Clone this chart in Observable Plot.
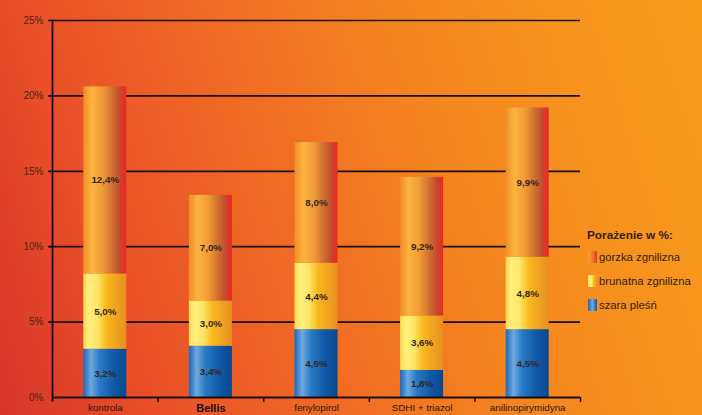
<!DOCTYPE html>
<html><head><meta charset="utf-8">
<script src="https://cdn.jsdelivr.net/npm/d3@7"></script>
<script src="https://cdn.jsdelivr.net/npm/@observablehq/plot@0.6"></script>
<style>
html,body{margin:0;padding:0;}
body{width:702px;height:415px;overflow:hidden;position:relative;
background:linear-gradient(72deg,#d6352a 0%,#e94f28 18%,#f06a24 40%,#f4841f 62%,#f7931d 82%,#f89a1c 100%);
font-family:"Liberation Sans",Arial,sans-serif;}
#chart{position:absolute;left:0;top:0;}
#legend{position:absolute;left:588px;top:228px;color:#33200f;font-size:11.3px;}
#legend .t{font-weight:bold;font-size:11.8px;margin-bottom:9px;margin-left:-1px;}
#legend .i{display:flex;align-items:center;height:12px;margin-bottom:12px;}
#legend .s{width:9px;height:12px;margin-right:2px;}
</style></head>
<body><div id="chart"></div>
<div id="legend"></div>
<script>
const categories = ["kontrola","Bellis","fenylopirol","SDHI + triazol","anilinopirymidyna"];
const series = ["szara pleśń","brunatna zgnilizna","gorzka zgnilizna"];
const szara = [3.2,3.4,4.5,1.8,4.5];
const brunatna = [5.0,3.0,4.4,3.6,4.8];
const gorzka = [12.4,7.0,8.0,9.2,9.9];
const yTicks = [0,5,10,15,20,25];
const legendTitle = "Porażenie w %:";

const valuesBySeries = [szara, brunatna, gorzka];
const data = [];
categories.forEach((c,i)=>series.forEach((s,j)=>data.push({cat:c, series:s, value:valuesBySeries[j][i]})));
const fmt = v => v.toFixed(1).replace(".", ",") + "%";
const gradIds = ["gBlue","gYellow","gOrange"];

const plot = Plot.plot({
  width:702, height:415,
  marginLeft:52, marginRight:122, marginTop:20, marginBottom:18,
  style:{background:"transparent", fontFamily:"'Liberation Sans',Arial,sans-serif"},
  x:{domain:categories, padding:0, round:false},
  y:{domain:[0,25]},
  color:{domain:series, range:gradIds.map(g=>`url(#${g})`)},
  marks:[
    Plot.ruleY(yTicks.filter(d=>d>0), {stroke:"#1a0d08", strokeWidth:1.7, insetLeft:-4}),
    Plot.barY(data, Plot.stackY({x:"cat", y:"value", fill:"series", z:"series", insetLeft:31.3, insetRight:31.3})),
    Plot.text(data, Plot.stackY({x:"cat", y:"value", z:"series", text:d=>fmt(d.value), fill:"#35251a", fontSize:9.8, fontWeight:"bold"})),
    Plot.ruleY([0], {stroke:"#1a0d08", strokeWidth:1.8}),
    Plot.ruleX(categories, {x:d=>d, y1:0, y2:0, dx:52.8, insetBottom:-5, stroke:"#1a0d08", strokeWidth:1.5}),
    Plot.frame({anchor:"left", stroke:"#1a0d08", strokeWidth:1.8, insetBottom:-3}),
    Plot.axisY(yTicks, {tickSize:0, tickPadding:9, tickFormat:d=>d+"%", fontSize:10, fill:"#4a2414", label:null}),
    Plot.axisX({tickSize:0, tickPadding:7, fontSize:9.8, fill:"#2a1a10", label:null})
  ]
});
document.getElementById("chart").appendChild(plot);

const svg = d3.select(plot);
const defs = svg.insert("defs", ":first-child");
const stops = {
  gBlue:[[0,"#1a68bc"],[0.18,"#6ea8de"],[0.38,"#2a7ac6"],[0.72,"#0e58a6"],[1,"#0a4890"]],
  gYellow:[[0,"#fbd85a"],[0.14,"#fff27c"],[0.34,"#fde464"],[0.55,"#f8b81c"],[0.8,"#efa020"],[1,"#e8901e"]],
  gOrange:[[0,"#f28c28"],[0.2,"#fcb440"],[0.45,"#f09c36"],[0.7,"#cc6a30"],[0.86,"#c24a2e"],[0.93,"#e2322a"],[1,"#e82a22"]]
};
for (const id of gradIds){
  const g = defs.append("linearGradient").attr("id",id).attr("x1","0").attr("x2","1").attr("y1","0").attr("y2","0");
  for (const [o,c] of stops[id]) g.append("stop").attr("offset",o).attr("stop-color",c);
}
svg.selectAll("text").filter(function(){return this.textContent==="Bellis";})
  .attr("font-weight","bold").attr("font-size",11).attr("fill","#1a0d08");

const legend = document.getElementById("legend");
legend.innerHTML = `<div class="t">${legendTitle}</div>`;
const legendOrder = [2,1,0];
const swatch = {
  gOrange:"linear-gradient(to right,#f7a030,#f07a2a,#e23424)",
  gYellow:"linear-gradient(to right,#fde060,#fff27c,#f8b81c,#e8901e)",
  gBlue:"linear-gradient(to right,#1a68bc,#6ea8de,#0e58a6)"
};
for (const j of legendOrder){
  const d = document.createElement("div"); d.className="i";
  d.innerHTML = `<div class="s" style="background:${swatch[gradIds[j]]}"></div><span>${series[j]}</span>`;
  legend.appendChild(d);
}
</script></body></html>
